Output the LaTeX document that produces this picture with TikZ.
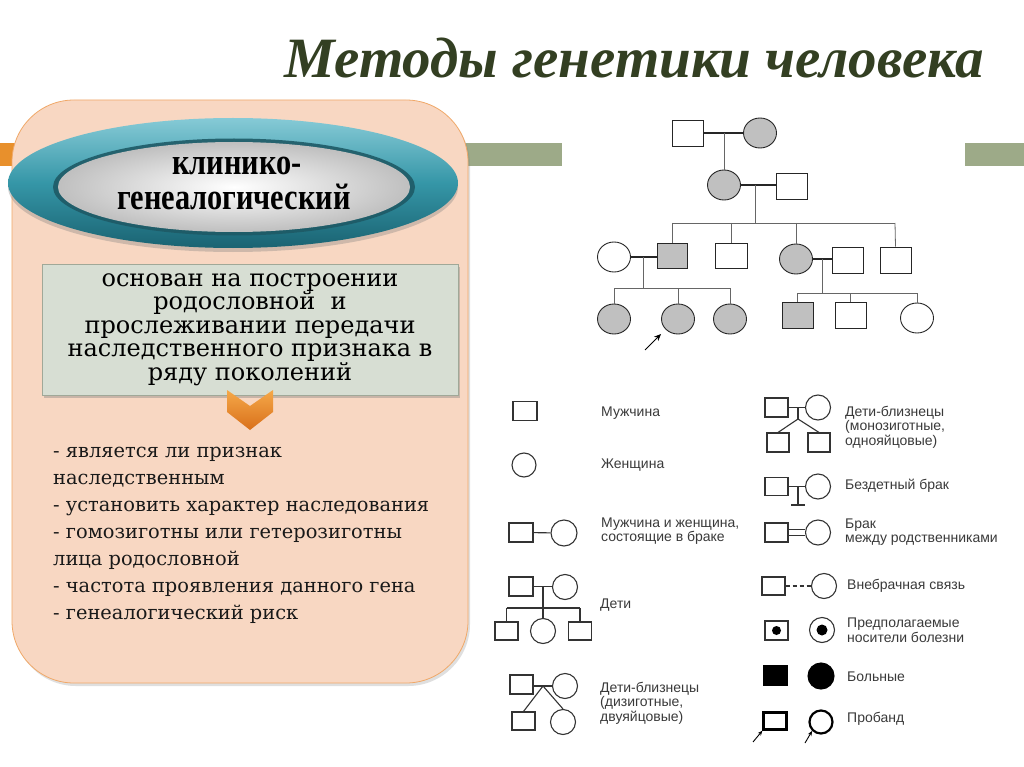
\documentclass[tikz,border=0pt]{standalone}
\usepackage{fontspec}
\setmainfont{Liberation Serif}
\newfontfamily\legfont{Liberation Sans}
\newfontfamily\bodyfont{DejaVu Serif}
\usetikzlibrary{shapes.geometric,shadows,arrows.meta}
\definecolor{bandorange}{HTML}{E8902C}
\definecolor{bandgreen}{HTML}{9DAA88}
\definecolor{peach}{HTML}{F8D7C2}
\definecolor{peachline}{HTML}{F0A868}
\definecolor{boxfill}{HTML}{D7DED3}
\definecolor{boxline}{HTML}{A0A898}
\definecolor{titlecol}{HTML}{333F22}
\definecolor{ringlight}{HTML}{86CAD6}
\definecolor{ringmid}{HTML}{3596A7}
\definecolor{ringdark}{HTML}{1A6372}
\definecolor{groove}{HTML}{1E5A66}
\definecolor{affgray}{HTML}{C0C0C0}
\definecolor{legtext}{HTML}{3A3A3A}
\definecolor{legline}{HTML}{333333}
\definecolor{chevlight}{HTML}{F5A849}
\definecolor{chevdark}{HTML}{D9701A}
\begin{document}
\begin{tikzpicture}[x=1pt,y=-1pt,
  psq/.style={rectangle,draw=black!85,line width=0.9pt,minimum width=31pt,minimum height=26pt,inner sep=0pt,fill=white},
  pci/.style={ellipse,draw=black!85,line width=0.9pt,minimum width=33pt,minimum height=30pt,inner sep=0pt,fill=white},
  aff/.style={fill=affgray},
  marr/.style={line width=1.8pt,black!85},
  desc/.style={line width=0.8pt,black!60},
  lsq/.style={rectangle,draw=legline,line width=1.1pt,minimum width=24pt,minimum height=19pt,inner sep=0pt},
  lci/.style={circle,draw=legline,line width=1.1pt,minimum size=25pt,inner sep=0pt},
  lline/.style={line width=1.1pt,legline},
  ltext/.style={anchor=west,text=legtext,font=\legfont\fontsize{14}{14.5}\selectfont,align=left,inner sep=0pt},
  bullet/.style={anchor=west,font=\bodyfont\fontsize{19.4}{27}\selectfont,align=left,inner sep=0pt,text=black!90},
  ringtext/.style={font=\fontsize{37}{40}\selectfont\bfseries,inner sep=0pt}
]
\useasboundingbox (0,0) rectangle (1024,767);
\fill[white] (0,0) rectangle (1024,767);

% bands
\fill[bandorange] (0,143) rectangle (30,166);
\fill[bandgreen] (460,143) rectangle (562,166);
\fill[bandgreen] (965,143) rectangle (1024,166);

% title
\node[font=\fontsize{57}{64}\selectfont\bfseries\itshape,text=titlecol] (title) at (634,58) {Методы генетики человека};

% peach panel
\node[rectangle,rounded corners=62pt,draw=peachline,line width=0.8pt,fill=peach,
  minimum width=456pt,minimum height=583pt,
  drop shadow={opacity=0.25,shadow xshift=2pt,shadow yshift=-3pt}] (panel) at (240,391.5) {};

% ring ellipse
\node[ellipse,minimum width=450pt,minimum height=130pt,top color=ringlight,bottom color=ringdark,middle color=ringmid,
  drop shadow={opacity=0.35,shadow xshift=0pt,shadow yshift=-4pt}] (ring) at (233,183) {};
\node[ellipse,minimum width=362pt,minimum height=97pt,fill=groove,opacity=0.9] (groovering) at (234,187) {};
\node[ellipse,minimum width=352pt,minimum height=90pt,inner color=white,outer color=black!25] (lens) at (234,187) {};
\node[ringtext] (k1) at (237,166) {\scalebox{0.82}[1]{клинико-}};
\node[ringtext] (k2) at (234,197) {\scalebox{0.82}[1]{генеалогический}};

% grey box
\node[rectangle,draw=boxline,line width=0.8pt,fill=boxfill,minimum width=416pt,minimum height=131pt,
  align=center,font=\bodyfont\fontsize{24}{23.5}\selectfont,inner sep=0pt,
  drop shadow={opacity=0.4,shadow xshift=2pt,shadow yshift=-3pt}] (desc) at (250,329.5)
  {основан на построении\\родословной~ и\\прослеживании передачи\\наследственного признака в\\ряду поколений};

% chevron
\path[top color=chevlight,bottom color=chevdark] (227,390) -- (250,406) -- (273,390) -- (273,412) -- (250,430) -- (227,412) -- cycle;

% bullets
\node[bullet] (bul) at (53,535) {- является ли признак\\наследственным\\- установить характер наследования\\- гомозиготны или гетерозиготны\\лица родословной\\- частота проявления данного гена\\- генеалогический риск};

% ---------- pedigree ----------
\node[psq] (I1) at (687.5,133) {};
\node[pci,aff] (I2) at (760,133) {};
\draw[marr] (I1) -- (I2);
\coordinate (m1) at (724,133);
\node[pci,aff] (II1) at (724,185) {};
\node[psq] (II2) at (792,186) {};
\draw[desc] (m1) -- (II1.north);
\draw[marr] (II1.east) -- (II2.west |- II1.east);
\coordinate (m2) at (755,185);
\coordinate (s2) at (755,223);
\draw[desc] (m2) -- (s2);
\coordinate (s2l) at (672,223);
\coordinate (s2r) at (895,223);
\draw[desc] (s2l) -- (s2r);
\node[pci] (III0) at (614,257) {};
\node[psq,aff,minimum width=30pt,minimum height=25pt] (III1) at (672,256) {};
\node[psq,minimum width=32pt,minimum height=25pt] (III2) at (731,256) {};
\node[pci,aff] (III3) at (796,259) {};
\node[psq] (III4) at (847.5,260) {};
\node[psq] (III5) at (895.5,260) {};
\draw[desc] (s2l) -- (III1.north);
\draw[desc] (III2.north |- s2l) -- (III2.north);
\draw[desc] (III3.north |- s2l) -- (III3.north);
\draw[desc] (s2r) -- (III5.north);
\draw[marr] (III0.east) -- (III1.west |- III0.east);
\draw[marr] (III3.east) -- (III4.west |- III3.east);
\coordinate (m3) at (643,257);
\coordinate (s3) at (643,288);
\draw[desc] (m3) -- (s3);
\coordinate (s3l) at (614,288);
\coordinate (s3r) at (730,288);
\draw[desc] (s3l) -- (s3r);
\node[pci,aff] (IV1) at (614,319) {};
\node[pci,aff] (IV2) at (678,319) {};
\node[pci,aff] (IV3) at (730,319) {};
\draw[desc] (s3l) -- (IV1.north);
\draw[desc] (IV2.north |- s3l) -- (IV2.north);
\draw[desc] (s3r) -- (IV3.north);
\coordinate (m4) at (822,259);
\coordinate (s4) at (822,293);
\draw[desc] (m4) -- (s4);
\coordinate (s4l) at (797.5,293);
\coordinate (s4r) at (917,293);
\draw[desc] (s4l) -- (s4r);
\node[psq,aff] (IV4) at (797.5,315.5) {};
\node[psq] (IV5) at (850.5,315.5) {};
\node[pci] (IV6) at (917,318) {};
\draw[desc] (s4l) -- (IV4.north);
\draw[desc] (IV5.north |- s4l) -- (IV5.north);
\draw[desc] (s4r) -- (IV6.north);
\coordinate (arS) at (645,350);
\coordinate (arE) at (661,334);
\draw[line width=1pt,-{Stealth[length=7pt,width=6pt]}] (arS) -- (arE);

% ---------- legend ----------
\node[lsq] (L1) at (525,411) {};
\node[ltext] (t1) at (601,413) {Мужчина};
\node[lci,minimum size=24pt] (L2) at (524,465) {};
\node[ltext] (t2) at (601,465) {Женщина};
\node[lsq] (L3a) at (521,532.5) {};
\node[lci,minimum size=26pt] (L3b) at (564,533) {};
\draw[lline] (L3a) -- (L3b);
\node[ltext] (t3) at (601,531) {Мужчина и женщина,\\состоящие в браке};
% children
\node[lsq] (L4a) at (521,586.5) {};
\node[lci] (L4b) at (565,587) {};
\draw[lline] (L4a.east) -- (L4b.west |- L4a.east);
\coordinate (L4m) at (543,586.5);
\coordinate (L4s) at (543,608);
\draw[lline] (L4m) -- (L4s);
\node[lsq,minimum width=23pt,minimum height=18pt] (L4c) at (506.5,631) {};
\node[lci] (L4d) at (543,631) {};
\node[lsq,minimum width=23pt,minimum height=18pt] (L4e) at (580,631) {};
\coordinate (L4sl) at (506.5,608);
\coordinate (L4sr) at (580,608);
\draw[lline] (L4sl) -- (L4sr);
\draw[lline] (L4sl) -- (L4c.north);
\draw[lline] (L4s) -- (L4d.north);
\draw[lline] (L4sr) -- (L4e.north);
\node[ltext] (t4) at (600,605) {Дети};
% dizygotic twins
\node[lsq,minimum width=23pt] (L5a) at (521.5,684.5) {};
\node[lci] (L5b) at (565,686) {};
\draw[lline] (L5a.east |- L5b.west) -- (L5b.west);
\coordinate (L5t) at (543,686);
\node[lsq,minimum width=23pt,minimum height=18pt] (L5c) at (523.5,721) {};
\node[lci] (L5d) at (563,722) {};
\draw[lline] (L5t) -- (L5c.north);
\draw[lline] (L5t) -- (L5d.north);
\node[ltext] (t5) at (600,703) {Дети-близнецы\\(дизиготные,\\двуяйцовые)};
% monozygotic twins
\node[lsq,minimum width=23pt] (M1a) at (776.5,407.5) {};
\node[lci] (M1b) at (818,407.5) {};
\draw[lline] (M1a) -- (M1b);
\coordinate (M1m) at (798,407.5);
\coordinate (M1t) at (798,419);
\draw[lline] (M1m) -- (M1t);
\node[lsq,minimum width=22pt] (M1c) at (778,442.5) {};
\node[lsq,minimum width=22pt] (M1d) at (819,442.5) {};
\draw[lline] (M1t) -- (M1c.north);
\draw[lline] (M1t) -- (M1d.north);
\node[ltext] (m1t) at (845,427) {Дети-близнецы\\(монозиготные,\\однояйцовые)};
% childless
\node[lsq,minimum width=23pt,minimum height=18pt] (M2a) at (776.5,486.5) {};
\node[lci] (M2b) at (818,486.5) {};
\draw[lline] (M2a) -- (M2b);
\coordinate (M2m) at (798,486.5);
\coordinate (M2t) at (798,505);
\draw[lline] (M2m) -- (M2t);
\coordinate (M2l) at (791,505);
\coordinate (M2r) at (805,505);
\draw[lline] (M2l) -- (M2r);
\node[ltext] (m2t) at (845,486) {Бездетный брак};
% consanguineous
\node[lsq,minimum width=23pt] (M3a) at (776.5,532.5) {};
\node[lci] (M3b) at (818,532.5) {};
\draw[legline,line width=0.9pt,double=white,double distance=4.5pt] (M3a) -- (M3b);
\node[ltext] (m3t) at (845,532) {Брак\\между родственниками};
% extramarital
\node[lsq,minimum width=23pt,minimum height=18pt] (M4a) at (773.5,586) {};
\node[lci] (M4b) at (824,586) {};
\draw[lline,dash pattern=on 4pt off 3pt] (M4a) -- (M4b);
\node[ltext] (m4t) at (847,586) {Внебрачная связь};
% carriers
\node[lsq,minimum width=23pt] (M5a) at (776.5,630.5) {};
\fill[black] (M5a.center) circle [radius=4.5];
\node[lci] (M5b) at (822,630) {};
\fill[black] (M5b.center) circle [radius=5.5];
\node[ltext] (m5t) at (847,630) {Предполагаемые\\носители болезни};
% affected
\node[lsq,fill=black,draw=black,minimum width=23pt] (M6a) at (775.5,675.5) {};
\node[lci,fill=black,draw=black,minimum size=26pt] (M6b) at (821,676) {};
\node[ltext] (m6t) at (847,677) {Больные};
% proband
\node[lsq,line width=2.2pt,draw=black,minimum width=23pt,minimum height=17pt] (M7a) at (775,721) {};
\node[lci,line width=2.2pt,draw=black,minimum size=23pt] (M7b) at (821,722) {};
\coordinate (M7s1) at (753,742);
\coordinate (M7s2) at (805,743);
\draw[line width=0.9pt,-{Stealth[length=5pt,width=4pt]}] (M7s1) -- (M7a.south west);
\draw[line width=0.9pt,-{Stealth[length=5pt,width=4pt]}] (M7s2) -- (M7b.-135);
\node[ltext] (m7t) at (847,719) {Пробанд};
\end{tikzpicture}
\end{document}
